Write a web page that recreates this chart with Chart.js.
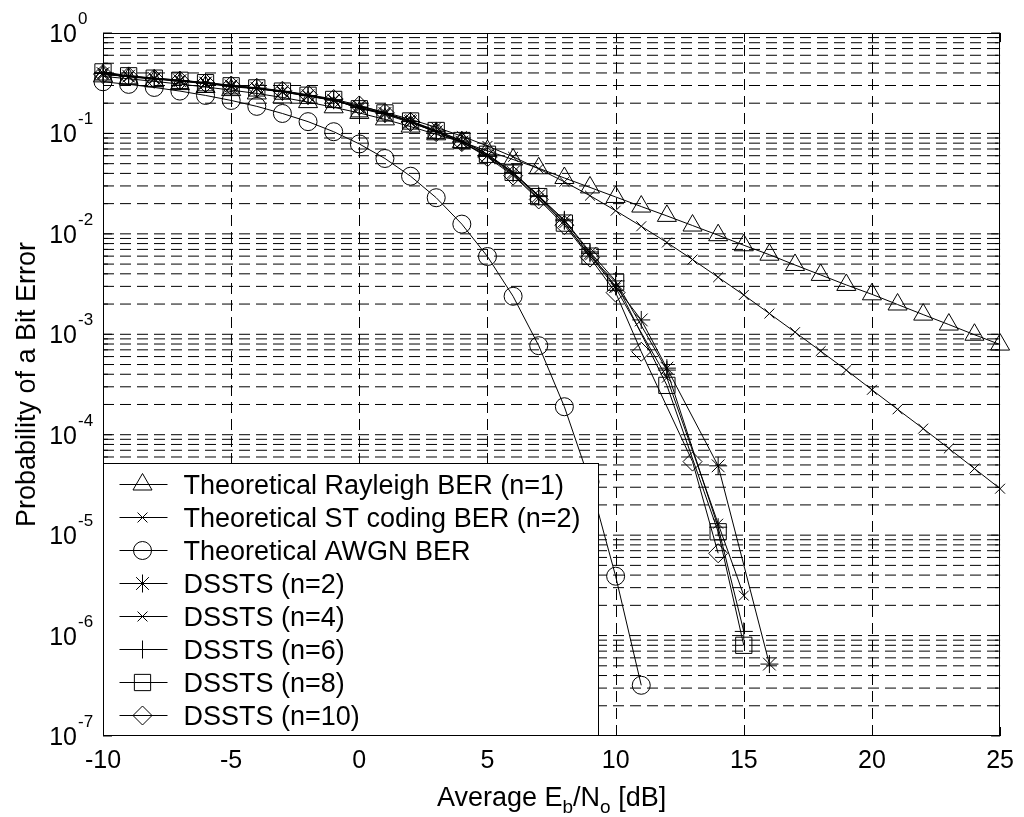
<!DOCTYPE html>
<html>
<head>
<meta charset="utf-8">
<script src="https://cdn.jsdelivr.net/npm/chart.js@4.4.1/dist/chart.umd.min.js"></script>
<style>
html,body{margin:0;padding:0;background:#fff;}
#wrap{width:1024px;height:817px;position:relative;}
canvas{display:block;}
</style>
</head>
<body>
<div id="wrap"><canvas id="c" width="1024" height="817"></canvas></div>
<script>
// ---------------- data ----------------
const snrDb = [-10,-9,-8,-7,-6,-5,-4,-3,-2,-1,0,1,2,3,4,5,6,7,8,9,10,11,12,13,14,15,16,17,18,19,20,21,22,23,24,25];

const berRayleigh = [0.37,0.35,0.33,0.31,0.29,0.27,0.25,0.228,0.205,0.182,0.16,0.138,0.117,0.098,0.082,0.067,0.055,0.045,0.036,0.029,0.0233,0.0187,0.0151,0.0121,0.0097,0.0077,0.0062,0.0049,0.0039,0.0031,0.0025,0.00198,0.00157,0.00125,0.00099,0.00079];

const berST = [0.384,0.370,0.356,0.339,0.321,0.302,0.281,0.259,0.236,0.212,0.187,0.162,0.138,0.115,0.094,0.075,0.0585,0.0444,0.033,0.024,0.017,0.0119,0.0082,0.00555,0.0037,0.00246,0.00161,0.00105,0.00068,0.00044,0.00028,0.000179,0.000115,0.000073,0.000046,0.000029];

const berAWGN = [0.327,0.308,0.287,0.264,0.239,0.213,0.186,0.158,0.131,0.104,0.0786,0.0563,0.0375,0.0229,0.0125,0.00595,0.00239,0.00077,0.00019,3.4e-5,3.9e-6,3.2e-7];

const berDSSTS2  = [0.395,0.372,0.352,0.335,0.318,0.297,0.282,0.262,0.238,0.214,0.183,0.158,0.131,0.104,0.082,0.060,0.041,0.024,0.0135,0.0064,3.0e-3,1.39e-3,4.6e-4,null,4.9e-5,null,5.2e-7];
const berDSSTS4  = [0.40,0.365,0.348,0.330,0.314,0.292,0.278,0.259,0.235,0.215,0.178,0.155,0.128,0.104,0.081,0.060,0.039,0.0225,0.0128,0.0061,2.9e-3,null,3.7e-4,null,1.3e-5,2.5e-6];
const berDSSTS6  = [0.405,0.370,0.350,0.334,0.317,0.296,0.281,0.262,0.238,0.217,0.181,0.158,0.132,0.106,0.084,0.062,0.040,0.0235,0.0138,0.0066,3.4e-3,null,4.4e-4,null,1.2e-5,1.1e-6];
const berDSSTS8  = [0.41,0.375,0.355,0.338,0.320,0.298,0.284,0.264,0.240,0.218,0.176,0.160,0.133,0.107,0.085,0.062,0.041,0.0235,0.0128,0.0060,3.3e-3,null,3.1e-4,null,1.08e-5,8.0e-7];
const berDSSTS10 = [0.39,0.370,0.350,0.336,0.318,0.300,0.285,0.266,0.243,0.220,0.190,0.160,0.130,0.103,0.082,0.058,0.038,0.022,0.0122,0.0058,2.6e-3,6.7e-4,null,5.4e-5,6.6e-6];

const seriesLabels = [
  'Theoretical Rayleigh BER (n=1)',
  'Theoretical ST coding BER (n=2)',
  'Theoretical AWGN BER',
  'DSSTS (n=2)',
  'DSSTS (n=4)',
  'DSSTS (n=6)',
  'DSSTS (n=8)',
  'DSSTS (n=10)'
];
const seriesValues = [berRayleigh, berST, berAWGN, berDSSTS2, berDSSTS4, berDSSTS6, berDSSTS8, berDSSTS10];

const xTickValues = [-10,-5,0,5,10,15,20,25];
const yDecadeExps = [0,-1,-2,-3,-4,-5,-6,-7];
const yAxisTitle = 'Probability of a Bit Error';
const xAxisTitleParts = [['Average E', false], ['b', true], ['/N', false], ['o', true], [' [dB]', false]];

// ---------------- styles ----------------
const FONT = '"Liberation Sans", Arial, Helvetica, sans-serif';
const markerStyles = [
  {pointStyle: 'triangle', radius: 11},
  {pointStyle: 'crossRot', radius: 7},
  {pointStyle: 'circle', radius: 9},
  {pointStyle: 'star', radius: 9},
  {pointStyle: 'crossRot', radius: 7},
  {pointStyle: 'cross', radius: 9},
  {pointStyle: 'rect', radius: 11.5},
  {pointStyle: 'rectRot', radius: 9.5}
];

function toPoints(arr) {
  const pts = [];
  arr.forEach((v, i) => { if (v !== null && v !== undefined) pts.push({x: snrDb[i], y: v}); });
  return pts;
}

const datasets = seriesValues.map((arr, i) => ({
  label: seriesLabels[i],
  data: toPoints(arr),
  borderColor: '#000',
  borderWidth: 1,
  backgroundColor: 'rgba(0,0,0,0)',
  pointStyle: markerStyles[i].pointStyle,
  pointRadius: markerStyles[i].radius,
  pointHoverRadius: markerStyles[i].radius,
  pointBorderColor: '#000',
  pointBackgroundColor: 'rgba(0,0,0,0)',
  pointBorderWidth: 1,
  fill: false,
  tension: 0,
  clip: false
}));

function drawMarker(ctx, style, x, y) {
  ctx.save();
  ctx.strokeStyle = '#000';
  ctx.fillStyle = 'rgba(0,0,0,0)';
  ctx.lineWidth = 1;
  ctx.setLineDash([]);
  if (Chart.helpers && Chart.helpers.drawPoint) {
    Chart.helpers.drawPoint(ctx, {pointStyle: style.pointStyle, radius: style.radius, borderWidth: 1, rotation: 0}, x, y);
  }
  ctx.restore();
}

const matlabAxes = {
  id: 'matlabAxes',
  beforeDatasetsDraw(chart) {
    const {ctx, chartArea: a, scales} = chart;
    const xs = scales.x, ys = scales.y;
    ctx.save();
    ctx.beginPath();
    ctx.rect(a.left, a.top, a.right - a.left, a.bottom - a.top);
    ctx.clip();
    ctx.strokeStyle = '#000';
    ctx.lineWidth = 1;
    ctx.setLineDash([11, 6]);
    for (let e = -7; e < 0; e++) {
      for (let m = 1; m <= 9; m++) {
        if (e === -7 && m === 1) continue;
        const py = ys.getPixelForValue(m * Math.pow(10, e));
        ctx.beginPath();
        ctx.moveTo(a.left, py);
        ctx.lineTo(a.right, py);
        ctx.stroke();
      }
    }
    xTickValues.forEach(v => {
      if (v <= xs.min || v >= xs.max) return;
      const px = Math.round(xs.getPixelForValue(v)) + 0.5;
      ctx.beginPath();
      ctx.moveTo(px, a.bottom);
      ctx.lineTo(px, a.top);
      ctx.stroke();
    });
    ctx.restore();
  },
  afterDatasetsDraw(chart) {
    const {ctx, chartArea: a, scales} = chart;
    const xs = scales.x, ys = scales.y;
    ctx.save();
    ctx.setLineDash([]);
    ctx.strokeStyle = '#000';
    ctx.lineWidth = 1;
    // inward tick marks
    for (let e = -7; e <= 0; e++) {
      for (let m = 1; m <= 9; m++) {
        const v = m * Math.pow(10, e);
        if (v > 1.0000001) continue;
        const py = ys.getPixelForValue(v);
        const len = m === 1 ? 9 : 5;
        ctx.beginPath();
        ctx.moveTo(a.left, py); ctx.lineTo(a.left + len, py);
        ctx.moveTo(a.right, py); ctx.lineTo(a.right - len, py);
        ctx.stroke();
      }
    }
    xTickValues.forEach(v => {
      const px = Math.round(xs.getPixelForValue(v)) + 0.5;
      ctx.beginPath();
      ctx.moveTo(px, a.bottom); ctx.lineTo(px, a.bottom - 9);
      ctx.moveTo(px, a.top); ctx.lineTo(px, a.top + 9);
      ctx.stroke();
    });
    // axes box
    const L = Math.round(a.left) + 0.5, R = Math.round(a.right) - 0.5;
    const T = Math.round(a.top) + 0.5, B = Math.round(a.bottom) - 0.5;
    ctx.strokeRect(L, T, R - L, B - T);

    // legend box (inside plot, lower left)
    const lgW = 495, lgH = 272;
    const lx = L, ly = B - lgH;
    ctx.fillStyle = '#fff';
    ctx.fillRect(lx, ly, lgW, lgH);
    ctx.strokeRect(lx, ly, lgW, lgH);
    ctx.font = '27px ' + FONT;
    ctx.textAlign = 'left';
    ctx.textBaseline = 'alphabetic';
    seriesLabels.forEach((lab, i) => {
      const cy = ly + 21 + i * 33;
      ctx.strokeStyle = '#000';
      ctx.beginPath();
      ctx.moveTo(lx + 16, cy); ctx.lineTo(lx + 64, cy);
      ctx.stroke();
      drawMarker(ctx, markerStyles[i], lx + 39, cy);
      ctx.fillStyle = '#000';
      ctx.fillText(lab, lx + 80, cy + 9.5);
    });
    ctx.restore();
  },
  afterDraw(chart) {
    const {ctx, chartArea: a, scales} = chart;
    const ys = scales.y;
    ctx.save();
    ctx.fillStyle = '#000';
    // y tick labels 10^e
    yDecadeExps.forEach(e => {
      const py = ys.getPixelForValue(Math.pow(10, e));
      ctx.font = '25px ' + FONT;
      ctx.textAlign = 'right';
      ctx.textBaseline = 'alphabetic';
      ctx.fillText('10', a.left - 26, py + 9);
      ctx.font = '17px ' + FONT;
      ctx.textAlign = 'left';
      ctx.fillText(String(e), a.left - 25, py - 9);
    });
    // x axis title with subscripts
    const big = '27px ' + FONT, small = '19px ' + FONT;
    let total = 0;
    xAxisTitleParts.forEach(([t, sub]) => { ctx.font = sub ? small : big; total += ctx.measureText(t).width; });
    let cx = (a.left + a.right) / 2 - total / 2;
    const base = a.bottom + 70;
    ctx.textAlign = 'left';
    ctx.textBaseline = 'alphabetic';
    xAxisTitleParts.forEach(([t, sub]) => {
      ctx.font = sub ? small : big;
      ctx.fillText(t, cx, sub ? base + 7 : base);
      cx += ctx.measureText(t).width;
    });
    ctx.restore();
  }
};

new Chart(document.getElementById('c'), {
  type: 'line',
  data: {datasets},
  options: {
    responsive: false,
    animation: false,
    events: [],
    devicePixelRatio: 1,
    layout: {padding: {top: 33, right: 17, left: 0, bottom: 0}},
    plugins: {legend: {display: false}, tooltip: {enabled: false}},
    scales: {
      x: {
        type: 'linear',
        min: -10, max: 25,
        grid: {display: false, drawTicks: false},
        border: {display: false},
        afterBuildTicks: s => { s.ticks = xTickValues.map(v => ({value: v})); },
        afterFit: s => { s.height = 81; },
        ticks: {color: '#000', font: {family: FONT, size: 25}, padding: 10, maxRotation: 0, autoSkip: false},
        title: {display: false, text: 'Average Eb/No [dB]'}
      },
      y: {
        type: 'logarithmic',
        min: 1e-7, max: 1,
        grid: {display: false, drawTicks: false},
        border: {display: false},
        afterBuildTicks: s => { s.ticks = yDecadeExps.map(e => ({value: Math.pow(10, e)})); },
        afterFit: s => { s.width = 103; },
        ticks: {display: false},
        title: {display: true, text: yAxisTitle, color: '#000', font: {family: FONT, size: 27}, padding: {top: 11, bottom: 0}}
      }
    }
  },
  plugins: [matlabAxes]
});
</script>
</body>
</html>
